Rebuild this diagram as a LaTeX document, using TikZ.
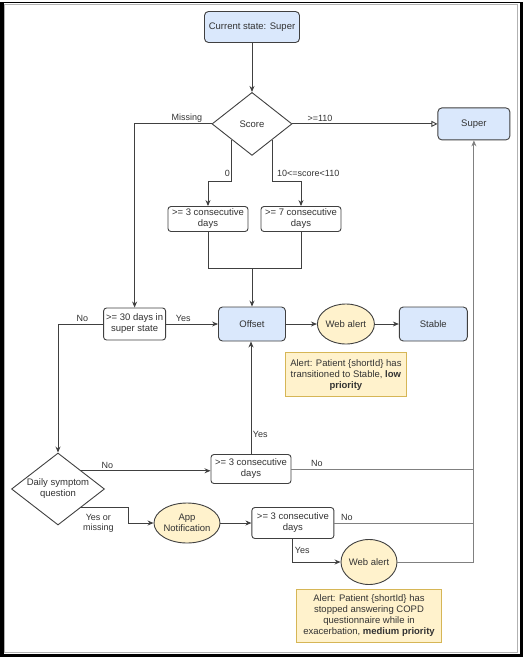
\documentclass[tikz,border=0pt]{standalone}
\usepackage{fontspec}
\setmainfont{Liberation Sans}
\usetikzlibrary{arrows.meta,positioning,shapes.geometric,calc}
\definecolor{stateblue}{HTML}{DAE8FC}
\definecolor{alertyellow}{HTML}{FFF2CC}
\definecolor{noteedge}{HTML}{D6B656}
\definecolor{inkgray}{HTML}{333333}

\begin{document}
\begin{tikzpicture}[x=1pt,y=-1pt,
  every node/.style={font=\fontsize{9.5}{11}\selectfont,text=inkgray,align=center},
  st/.style={draw=black!75,line width=0.9pt,rounded corners=4pt,fill=stateblue,inner sep=1pt},
  cond/.style={draw=black!75,line width=0.9pt,rounded corners=3pt,fill=white,inner sep=1pt},
  dec/.style={draw=black!75,line width=0.9pt,diamond,fill=white,inner sep=0pt},
  al/.style={draw=black!75,line width=0.9pt,ellipse,fill=alertyellow,inner sep=0pt,inner xsep=-1pt},
  note/.style={draw=noteedge,fill=alertyellow,inner sep=2pt},
  lbl/.style={inner sep=1.5pt,font=\fontsize{9}{10.5}\selectfont},
  wire/.style={draw=black!75,line width=0.9pt},
  conn/.style={wire,-{Stealth[length=6pt,width=5pt]}},
  bus/.style={draw=black!50,line width=0.9pt}]
\useasboundingbox (0,0) rectangle (523,657);
% frame
\draw[black!30,line width=0.6pt] (4.5,4) rectangle (517,652);
\draw[line width=3.5pt] (1.75,3) -- (1.75,655.25) -- (521.25,655.25) -- (521.25,3);
\draw[line width=1.2pt] (0,2.5) -- (523,2.5);
% nodes
\node[st,minimum width=95pt,minimum height=31pt] (cur) at (252,27) {Current state: Super};
\node[dec,aspect=1.27,minimum width=80pt,minimum height=63pt,below=49pt of cur] (score) {Score};
\node[st,minimum width=72pt,minimum height=32pt,right=145pt of score] (super) {Super};
\node[cond,minimum width=80pt,minimum height=25pt] (three1) at (208,219) {>= 3 consecutive\\days};
\node[cond,minimum width=80pt,minimum height=25pt] (seven) at (301,219) {>= 7 consecutive\\days};
\node[st,minimum width=67pt,minimum height=34pt] (offset) at (252,324) {Offset};
\node[cond,minimum width=62pt,minimum height=32pt,left=52pt of offset] (thirty) {>= 30 days in\\super state};
\node[al,minimum width=57pt,minimum height=40pt,right=31pt of offset] (web1) {Web alert};
\node[st,minimum width=68pt,minimum height=34pt,right=24pt of web1] (stable) {Stable};
\node[note,minimum width=121pt,minimum height=44pt,below=8pt of web1] (note1) {Alert: Patient \{shortId\} has\\transitioned to Stable, \textbf{low}\\\textbf{priority}};
\node[dec,aspect=1.3,minimum width=93pt,minimum height=72pt] (daily) at (58,489) {Daily symptom\\question};
\node[cond,minimum width=80pt,minimum height=29pt] (three2) at (251,469) {>= 3 consecutive\\days};
\node[al,minimum width=66pt,minimum height=40pt] (appnot) at (187,523) {App\\Notification};
\node[cond,minimum width=82pt,minimum height=31pt,right=31pt of appnot] (three3) {>= 3 consecutive\\days};
\node[al,minimum width=56pt,minimum height=45pt] (web2) at (369,562) {Web alert};
\node[note,minimum width=145pt,minimum height=53pt,below=4pt of web2] (note2) {Alert: Patient \{shortId\} has\\stopped answering COPD\\questionnaire while in\\exacerbation, \textbf{medium priority}};
% score branches
\coordinate (zl) at ($(score.west)!0.5!(score.south)$);
\coordinate (zr) at ($(score.east)!0.5!(score.south)$);
\coordinate (merge) at ($(offset.north)+(0,-38)$);
\coordinate (dne) at ($(daily.north)!0.5!(daily.east)$);
\coordinate (dse) at ($(daily.south)!0.5!(daily.east)$);
% connectors
\draw[conn] (cur) -- (score);
\draw[conn,-{Triangle[open,length=6pt,width=6pt]}] (score) -- node[lbl,above,pos=0.19] (lsup) {>=110} (super);
\draw[conn] (score.west) -| node[lbl,above,pos=0.16] (lmiss) {Missing} (thirty.north);
\draw[conn] (zl) -- node[lbl,left,pos=0.8] (lzero) {0} ++(0,42) -| (three1.north);
\draw[conn] (zr) -- node[lbl,right,pos=0.8,xshift=3pt] (lmid) {10<=score<110} ++(0,42) -| (seven.north);
\draw[wire] (three1.south) |- (merge);
\draw[wire] (seven.south) |- (merge);
\draw[conn] (merge) -- (offset.north);
\draw[conn] (thirty) -- node[lbl,above,pos=0.33] (lyes1) {Yes} (offset);
\draw[conn] (offset) -- (web1);
\draw[conn] (web1) -- (stable);
\draw[conn] (thirty.west) -| node[lbl,above,pos=0.23] (lno1) {No} (daily.north);
\draw[conn] (dne) -- node[lbl,above,pos=0.2] (lno2) {No} (dne -| three2.west);
\draw[conn] (three2.north) -- node[lbl,right,pos=0.17] (lyes2) {Yes} (three2.north |- offset.south);
\draw[bus] (three2.east) -- node[lbl,above,pos=0.14] (lno3) {No} (three2.east -| super.south);
\draw[conn] (dse) -- node[lbl,below,pos=0.36,yshift=-5pt] (lyesm) {Yes or\\missing} ++(47,0) |- (appnot.west);
\draw[conn] (appnot) -- (three3);
\draw[bus] (three3.east) -- node[lbl,above,pos=0.09] (lno4) {No} (three3.east -| super.south);
\draw[conn] (three3.south) |- node[lbl,right,pos=0.24] (lyes3) {Yes} (web2.west);
\draw[bus,-{Stealth[length=6pt,width=5pt]}] (web2.east) -| (super.south);
\end{tikzpicture}
\end{document}
